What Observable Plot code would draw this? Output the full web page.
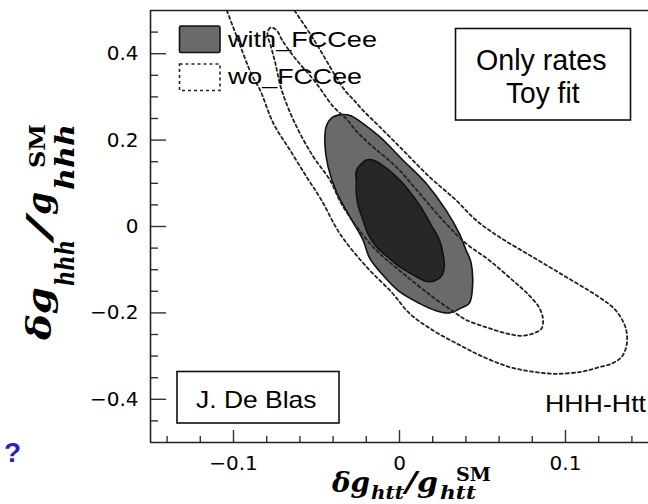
<!DOCTYPE html>
<html><head><meta charset="utf-8">
<script src="https://cdn.jsdelivr.net/npm/d3@7"></script>
<script src="https://cdn.jsdelivr.net/npm/@observablehq/plot@0.6"></script>
<style>
html,body{margin:0;padding:0;background:#fff;}
#chart{width:648px;height:504px;overflow:hidden;position:relative;}
svg{display:block;}
</style></head><body><div id="chart"></div>
<script>
// with_FCCee 68% (dark) contour, [δg_htt, δg_hhh]
const with68 = [[-0.020,0.154],[-0.016,0.154],[-0.012,0.146],[-0.005,0.126],[0.002,0.100],[0.008,0.071],[0.014,0.038],[0.019,0.004],[0.024,-0.031],[0.026,-0.059],[0.027,-0.091],[0.026,-0.110],[0.024,-0.120],[0.018,-0.128],[0.014,-0.124],[0.010,-0.116],[0.000,-0.093],[-0.007,-0.071],[-0.014,-0.047],[-0.019,-0.017],[-0.022,0.015],[-0.025,0.050],[-0.026,0.077],[-0.026,0.103],[-0.026,0.129],[-0.023,0.145]];
// with_FCCee 95% (grey) contour
const with95 = [[-0.035,0.259],[-0.029,0.256],[-0.024,0.244],[-0.012,0.208],[0.002,0.154],[0.016,0.100],[0.028,0.038],[0.036,-0.016],[0.040,-0.054],[0.043,-0.082],[0.044,-0.139],[0.042,-0.178],[0.037,-0.189],[0.030,-0.200],[0.022,-0.195],[0.012,-0.178],[0.000,-0.151],[-0.009,-0.117],[-0.018,-0.073],[-0.022,-0.031],[-0.030,0.023],[-0.038,0.080],[-0.043,0.138],[-0.045,0.200],[-0.044,0.233],[-0.041,0.251]];
// wo_FCCee 68% (dotted, closed) contour
const wo68 = [[-0.0795,0.443],[-0.0789,0.455],[-0.0774,0.461],[-0.0753,0.458],[-0.0732,0.450],[-0.0708,0.432],[-0.063,0.390],[-0.051,0.336],[-0.040,0.278],[-0.032,0.249],[-0.026,0.221],[-0.018,0.191],[-0.002,0.138],[0.012,0.077],[0.026,0.015],[0.040,-0.039],[0.054,-0.078],[0.068,-0.124],[0.078,-0.159],[0.084,-0.187],[0.0864,-0.213],[0.0856,-0.236],[0.081,-0.247],[0.073,-0.253],[0.064,-0.247],[0.052,-0.233],[0.040,-0.216],[0.034,-0.201],[0.020,-0.163],[0.002,-0.108],[-0.016,-0.047],[-0.034,0.046],[-0.042,0.108],[-0.052,0.162],[-0.063,0.239],[-0.071,0.316],[-0.075,0.381],[-0.0777,0.420]];
// wo_FCCee 95% (dotted, open at the top) contour
const wo95 = [[-0.104,0.500],[-0.097,0.429],[-0.089,0.351],[-0.084,0.316],[-0.076,0.239],[-0.066,0.177],[-0.056,0.115],[-0.047,0.061],[-0.036,-0.016],[-0.020,-0.093],[-0.0048,-0.152],[0.006,-0.201],[0.020,-0.240],[0.036,-0.274],[0.050,-0.301],[0.066,-0.325],[0.080,-0.336],[0.094,-0.341],[0.110,-0.336],[0.120,-0.326],[0.128,-0.317],[0.134,-0.301],[0.137,-0.270],[0.136,-0.232],[0.130,-0.193],[0.120,-0.163],[0.100,-0.116],[0.080,-0.070],[0.060,-0.024],[0.046,0.015],[0.034,0.061],[0.018,0.115],[0.002,0.177],[-0.012,0.231],[-0.021,0.265],[-0.0276,0.293],[-0.0331,0.316],[-0.039,0.351],[-0.051,0.429],[-0.0633,0.500]];

const xMajor = [-0.1, 0, 0.1];
const xMajorLabels = ["\u22120.1", "0", "0.1"];
const xMinor = [-0.14,-0.12,-0.08,-0.06,-0.04,-0.02,0.02,0.04,0.06,0.08,0.12,0.14];
const yMajor = [0.4, 0.2, 0, -0.2, -0.4];
const yMajorLabels = ["0.4", "0.2", "0", "\u22120.2", "\u22120.4"];
const yMinor = [0.45,0.35,0.3,0.25,0.15,0.1,0.05,-0.05,-0.1,-0.15,-0.25,-0.3,-0.35,-0.45];
const xDomain = [-0.15, 0.15];
const yDomain = [-0.5, 0.5];
const legendLabels = ["with_FCCee", "wo_FCCee"];

const W = 648, H = 504, mL = 150, mR = 0, mT = 10, mB = 62;
const fw = W - mL - mR, fh = H - mT - mB;
const X = d => d[0], Y = d => d[1];
const dash = "3,3";

const chart = Plot.plot({
  width: W, height: H,
  marginLeft: mL, marginRight: mR, marginTop: mT, marginBottom: mB,
  style: {background: "transparent", fontFamily: "DejaVu Sans", fontSize: "20px", color: "#000"},
  x: {domain: xDomain},
  y: {domain: yDomain},
  marks: [
    Plot.line(with95, {x: X, y: Y, curve: "catmull-rom-closed", fill: "#6a6a6a", stroke: "#111", strokeWidth: 1.6}),
    Plot.line(with68, {x: X, y: Y, curve: "catmull-rom-closed", fill: "#272727", stroke: "#111", strokeWidth: 1.6}),
    Plot.line(wo68, {x: X, y: Y, curve: "catmull-rom-closed", stroke: "#222", strokeWidth: 1.8, strokeDasharray: dash, clip: true}),
    Plot.line(wo95, {x: X, y: Y, curve: "catmull-rom", stroke: "#222", strokeWidth: 1.8, strokeDasharray: dash, clip: true}),
    Plot.tickY(yMajor, {y: d => d, insetRight: fw - 16, stroke: "#333", strokeWidth: 1.4}),
    Plot.tickY(yMinor, {y: d => d, insetRight: fw - 8, stroke: "#333", strokeWidth: 1.4}),
    Plot.tickX(xMajor, {x: d => d, insetTop: fh - 12, stroke: "#333", strokeWidth: 1.4}),
    Plot.tickX(xMinor, {x: d => d, insetTop: fh - 6, stroke: "#333", strokeWidth: 1.4}),
    Plot.ruleX([xDomain[0]], {stroke: "#222", strokeWidth: 1.6}),
    Plot.ruleY([yDomain[0]], {stroke: "#222", strokeWidth: 1.6}),
    Plot.ruleY([yDomain[1]], {stroke: "#222", strokeWidth: 1.3}),
    Plot.axisX(xMajor, {tickSize: 0, tickPadding: 13, label: null, fontSize: 20, tickFormat: d => xMajorLabels[xMajor.indexOf(d)]}),
    Plot.axisY(yMajor, {tickSize: 0, tickPadding: 12, label: null, fontSize: 20, tickFormat: d => yMajorLabels[yMajor.indexOf(d)]})
  ]
});
document.getElementById("chart").appendChild(chart);

const svg = d3.select(chart);
const ann = svg.append("g").attr("font-family", "Liberation Sans, Arial, sans-serif")
  .attr("fill", "#000").attr("text-anchor", "start");

function txt(g, s, x, y, size, len, extra) {
  const t = g.append("text").attr("x", x).attr("y", y).attr("font-size", size)
    .attr("text-anchor", "start").text(s);
  if (len) t.attr("textLength", len).attr("lengthAdjust", "spacingAndGlyphs");
  if (extra) extra(t);
  return t;
}

// legend
ann.append("rect").attr("x", 179.5).attr("y", 26).attr("width", 40.5).attr("height", 26.5)
  .attr("fill", "#6a6a6a").attr("stroke", "#111").attr("stroke-width", 1.6).attr("rx", 1.5);
ann.append("rect").attr("x", 179.5).attr("y", 64).attr("width", 40.5).attr("height", 26.5)
  .attr("fill", "none").attr("stroke", "#222").attr("stroke-width", 1.6).attr("stroke-dasharray", dash);
txt(ann, legendLabels[0], 228, 47, 22, 149);
txt(ann, legendLabels[1], 228, 84, 22, 134);

// Only rates / Toy fit box
ann.append("rect").attr("x", 455.5).attr("y", 28.5).attr("width", 175).attr("height", 91.5)
  .attr("fill", "#fff").attr("stroke", "#111").attr("stroke-width", 1.6);
txt(ann, "Only rates", 476, 69.5, 29, 130.5);
txt(ann, "Toy fit", 506, 102.5, 29, 73.5);

// J. De Blas box
ann.append("rect").attr("x", 177).attr("y", 371.5).attr("width", 162).attr("height", 51.5)
  .attr("fill", "#fff").attr("stroke", "#111").attr("stroke-width", 1.6);
txt(ann, "J. De Blas", 196, 408, 24, 120.5);

txt(ann, "HHH-Htt", 545, 412, 24, 101);

// stray blue question mark
txt(ann, "?", 4, 462, 28, null, t => t.attr("font-weight", "bold").attr("fill", "#2323c3"));

// axis titles
const lab = svg.append("g").attr("font-family", "DejaVu Serif, serif").attr("font-weight", "bold")
  .attr("fill", "#000").attr("text-anchor", "start");
function seg(g, s, x, y, size, len, italic) {
  const t = g.append("text").attr("x", x).attr("y", y).attr("font-size", size)
    .attr("text-anchor", "start")
    .attr("textLength", len).attr("lengthAdjust", "spacingAndGlyphs").text(s);
  if (italic) t.attr("font-style", "italic");
  return t;
}
// x title: δg_htt / g_htt^SM
seg(lab, "\u03b4g", 332, 492, 27, 38, true);
seg(lab, "htt", 371, 499, 19, 33, true);
seg(lab, "/", 405, 492, 27, 12, true);
seg(lab, "g", 417, 492, 27, 21, true);
seg(lab, "htt", 440, 499, 19, 36, true);
seg(lab, "SM", 456, 481, 19, 35, false);

// y title: δg_hhh / g_hhh^SM (rotated)
const ly = lab.append("g").attr("transform", "translate(51,340) rotate(-90)");
seg(ly, "\u03b4g", 0, 0, 33, 53, true);
seg(ly, "hhh", 54, 23, 26, 46, true);
seg(ly, "/", 101, 0, 33, 22, true);
seg(ly, "g", 125, 0, 33, 23, true);
seg(ly, "hhh", 150, 23, 26, 66, true);
seg(ly, "SM", 172, -6, 23, 44, false);
</script>
</body></html>
